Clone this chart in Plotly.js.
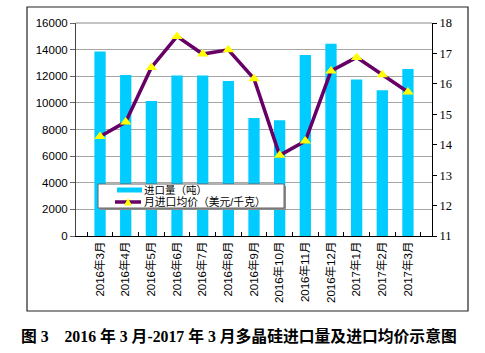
<!DOCTYPE html>
<html>
<head>
<meta charset="utf-8">
<script src="https://cdn.plot.ly/plotly-3.0.1.min.js"></script>
<style>
html,body{margin:0;padding:0;background:#fff;}
#chart{width:485px;height:353px;}
</style>
</head>
<body>
<div id="chart"></div>
<script>
var months = ["2016年3月","2016年4月","2016年5月","2016年6月","2016年7月","2016年8月","2016年9月","2016年10月","2016年11月","2016年12月","2017年1月","2017年2月","2017年3月"];
var importVolume = [13850, 12100, 10150, 12050, 12050, 11650, 8870, 8700, 13600, 14450, 11750, 10950, 12550];
var avgPrice = [14.27, 14.75, 16.54, 17.56, 16.98, 17.12, 16.17, 13.65, 14.12, 16.42, 16.87, 16.3, 15.73];
var volumeName = "进口量（吨）";
var priceName = "月进口均价（美元/千克）";
var captionText = "图 3&nbsp;&nbsp;&nbsp;&nbsp;2016 年 3 月-2017 年 3 月多晶硅进口量及进口均价示意图";

var sans = "Liberation Sans, Arial, Noto Sans CJK SC, sans-serif";
var serif = "Liberation Serif, Times New Roman, Noto Sans CJK SC, serif";
var barColor = "#00CCFF";
var lineColor = "#660066";
var markerColor = "#FFFF00";

var traces = [
  {
    type: "bar",
    name: volumeName,
    x: months,
    y: importVolume,
    marker: {color: barColor, line: {width: 0}},
    yaxis: "y"
  },
  {
    type: "scatter",
    mode: "lines+markers",
    name: priceName,
    x: months,
    y: avgPrice,
    yaxis: "y2",
    line: {color: lineColor, width: 3.5},
    marker: {symbol: "triangle-up", size: 10, color: markerColor, line: {width: 0}}
  }
];

// plot area: x 76..432 px, y 23..236 px
function px(v){ return (v - 76) / 356; }
function py(v){ return (236 - v) / 213; }

var layout = {
  width: 485,
  height: 353,
  margin: {l: 76, r: 53, t: 23, b: 117, pad: 0},
  paper_bgcolor: "#fff",
  plot_bgcolor: "#fff",
  showlegend: false,
  bargap: 0.56,
  font: {family: sans, size: 11, color: "#000"},
  xaxis: {
    type: "category",
    tickangle: -90,
    tickfont: {family: sans, size: 11.5, color: "#000"},
    showline: true,
    linecolor: "#000",
    linewidth: 1,
    ticks: "inside",
    ticklen: 4,
    tickcolor: "#000",
    tickson: "boundaries",
    showgrid: false,
    zeroline: false,
    automargin: false
  },
  yaxis: {
    range: [0, 16000],
    dtick: 2000,
    tickformat: "d",
    tickfont: {family: sans, size: 11.5, color: "#000"},
    showgrid: true,
    gridcolor: "#A6A6A6",
    gridwidth: 1,
    showline: true,
    linecolor: "#444",
    ticks: "outside",
    ticklen: 5,
    tickcolor: "#666",
    zeroline: false,
    automargin: false
  },
  yaxis2: {
    overlaying: "y",
    side: "right",
    range: [11, 18],
    dtick: 1,
    tickfont: {family: serif, size: 12.5, color: "#000"},
    showgrid: false,
    showline: true,
    linecolor: "#000",
    ticks: "outside",
    ticklen: 4,
    tickcolor: "#000",
    zeroline: false,
    automargin: false
  },
  shapes: [
    {type: "line", xref: "paper", yref: "paper", x0: 0, x1: 1, y0: 1, y1: 1, line: {color: "#888", width: 1}},
    {type: "rect", xref: "paper", yref: "paper", x0: px(27), x1: px(468), y0: py(311), y1: py(7), line: {color: "#222", width: 1.2}, fillcolor: "rgba(0,0,0,0)"},
    // legend shadow + box
    {type: "rect", xref: "paper", yref: "paper", x0: px(100), x1: px(286), y0: py(210), y1: py(186), line: {width: 0}, fillcolor: "#8c8c8c"},
    {type: "rect", xref: "paper", yref: "paper", x0: px(98), x1: px(284), y0: py(208), y1: py(184), line: {color: "#666", width: 1}, fillcolor: "#fff"},
    // legend swatches
    {type: "rect", xref: "paper", yref: "paper", x0: px(117), x1: px(142), y0: py(192.5), y1: py(187.5), line: {width: 0}, fillcolor: barColor},
    {type: "line", xref: "paper", yref: "paper", x0: px(115), x1: px(141), y0: py(202), y1: py(202), line: {color: lineColor, width: 3.5}},
    {type: "path", xref: "paper", yref: "paper",
     path: "M " + px(124) + " " + py(205.5) + " L " + px(132) + " " + py(205.5) + " L " + px(128) + " " + py(198) + " Z",
     line: {width: 0}, fillcolor: markerColor}
  ],
  annotations: [
    {
      xref: "paper", yref: "paper",
      x: px(142), y: py(190),
      xanchor: "left", yanchor: "middle",
      showarrow: false,
      text: volumeName,
      font: {family: sans, size: 10.5, color: "#000"}
    },
    {
      xref: "paper", yref: "paper",
      x: px(142), y: py(202),
      xanchor: "left", yanchor: "middle",
      showarrow: false,
      text: priceName,
      font: {family: sans, size: 10.8, color: "#000"}
    },
    {
      xref: "paper", yref: "paper",
      x: px(19), y: py(336),
      xanchor: "left", yanchor: "middle",
      showarrow: false,
      text: "<b>" + captionText + "</b>",
      font: {family: serif, size: 15.8, color: "#000"}
    }
  ]
};

Plotly.newPlot("chart", traces, layout, {displayModeBar: false, staticPlot: true});
</script>
</body>
</html>
